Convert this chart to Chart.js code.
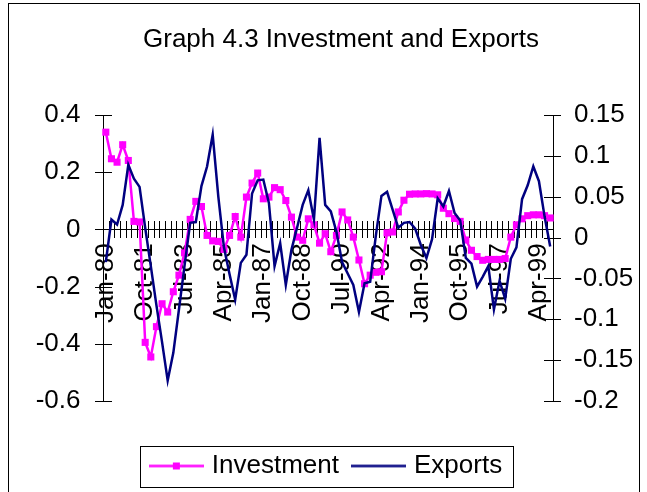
<!DOCTYPE html>
<html>
<head>
<meta charset="utf-8">
<title>Graph 4.3 Investment and Exports</title>
<script src="https://cdn.jsdelivr.net/npm/chart.js@4.4.1/dist/chart.umd.min.js"></script>
<style>
  html, body { margin: 0; padding: 0; background: #ffffff; }
  canvas { display: block; }
</style>
</head>
<body>
<canvas id="chart" width="647" height="492"></canvas>
<script>
// Quarterly periods, Jan-80 to Oct-99
const quarters = [
  'Jan-80','Apr-80','Jul-80','Oct-80','Jan-81','Apr-81','Jul-81','Oct-81',
  'Jan-82','Apr-82','Jul-82','Oct-82','Jan-83','Apr-83','Jul-83','Oct-83',
  'Jan-84','Apr-84','Jul-84','Oct-84','Jan-85','Apr-85','Jul-85','Oct-85',
  'Jan-86','Apr-86','Jul-86','Oct-86','Jan-87','Apr-87','Jul-87','Oct-87',
  'Jan-88','Apr-88','Jul-88','Oct-88','Jan-89','Apr-89','Jul-89','Oct-89',
  'Jan-90','Apr-90','Jul-90','Oct-90','Jan-91','Apr-91','Jul-91','Oct-91',
  'Jan-92','Apr-92','Jul-92','Oct-92','Jan-93','Apr-93','Jul-93','Oct-93',
  'Jan-94','Apr-94','Jul-94','Oct-94','Jan-95','Apr-95','Jul-95','Oct-95',
  'Jan-96','Apr-96','Jul-96','Oct-96','Jan-97','Apr-97','Jul-97','Oct-97',
  'Jan-98','Apr-98','Jul-98','Oct-98','Jan-99','Apr-99','Jul-99','Oct-99'
];

// Investment (left axis)
const investment = [
   0.340,  0.247,  0.235,  0.296,  0.241,  0.028,  0.026, -0.395, -0.446, -0.340,
  -0.260, -0.289, -0.218, -0.160, -0.082,  0.035,  0.098,  0.080, -0.021, -0.040,
  -0.042, -0.070, -0.021,  0.045, -0.027,  0.113,  0.162,  0.197,  0.107,  0.113,
   0.146,  0.139,  0.101,  0.043, -0.027, -0.038,  0.037,  0.016, -0.048, -0.015,
  -0.078, -0.021,  0.061,  0.033, -0.027, -0.107, -0.190, -0.160, -0.150, -0.148,
  -0.012, -0.009,  0.061,  0.102,  0.123,  0.124,  0.124,  0.125,  0.124,  0.121,
   0.074,  0.055,  0.038,  0.028, -0.037, -0.073, -0.095, -0.108, -0.105, -0.105,
  -0.105, -0.102, -0.027,  0.016,  0.037,  0.048,  0.051,  0.051,  0.048,  0.040
];

// Exports (right axis)
const exportsSeries = [
  -0.030,  0.022,  0.016,  0.040,  0.089,  0.072,  0.062,  0.012, -0.035, -0.083,
  -0.128, -0.175, -0.141, -0.088, -0.034,  0.018,  0.019,  0.063,  0.087,  0.126,
   0.050, -0.012, -0.045, -0.076, -0.031, -0.021,  0.054,  0.070,  0.071,  0.042,
  -0.035, -0.007, -0.058, -0.015,  0.012,  0.040,  0.058,  0.022,  0.122,  0.040,
   0.032,  0.007, -0.030, -0.044, -0.058, -0.091, -0.056, -0.054,  0.002,  0.051,
   0.056,  0.034,  0.012,  0.018,  0.019,  0.011, -0.009, -0.025, -0.002,  0.048,
   0.038,  0.057,  0.030,  0.021, -0.025, -0.032, -0.060, -0.048, -0.035, -0.088,
  -0.053, -0.075, -0.026, -0.012,  0.047,  0.064,  0.087,  0.069,  0.026, -0.011
];

const leftTicks = [-0.6, -0.4, -0.2, 0, 0.2, 0.4];
const rightTicks = [-0.2, -0.15, -0.1, -0.05, 0, 0.05, 0.1, 0.15];
const labelEvery = 7;

const FONT = "'Liberation Sans', Arial, Helvetica, sans-serif";
const FONT_SIZE = 26;
const PINK = '#FF00FF';
const NAVY = '#000080';

function fmt(v) {
  return String(parseFloat(Number(v).toFixed(2)));
}

// Small line samples used as legend symbols
function legendSwatch(color, withMarker) {
  const c = document.createElement('canvas');
  c.width = 55;
  c.height = 11;
  const g = c.getContext('2d');
  g.strokeStyle = color;
  g.lineWidth = 2.5;
  g.beginPath();
  g.moveTo(0, 5.5);
  g.lineTo(55, 5.5);
  g.stroke();
  if (withMarker) {
    g.fillStyle = color;
    g.fillRect(24, 2, 7, 7);
  }
  return c;
}
const investmentSwatch = legendSwatch(PINK, true);
const exportsSwatch = legendSwatch(NAVY, false);

// Frame, cross tick marks and the legend box
const decor = {
  id: 'decor',
  beforeDraw(chart) {
    const ctx = chart.ctx;
    ctx.save();
    ctx.fillStyle = '#ffffff';
    ctx.fillRect(0, 0, chart.width, chart.height);
    ctx.restore();
  },
  beforeDatasetsDraw(chart) {
    const {ctx, chartArea, scales} = chart;
    const x = scales.x, y = scales.y, y1 = scales.y1;
    const half = 8.5;
    ctx.save();
    ctx.strokeStyle = '#000000';
    ctx.lineWidth = 1;
    ctx.beginPath();
    const lx = Math.round(chartArea.left) + 0.5;
    leftTicks.forEach(v => {
      const py = Math.round(y.getPixelForValue(v)) + 0.5;
      ctx.moveTo(lx - half, py);
      ctx.lineTo(lx + half, py);
    });
    const rx = Math.round(chartArea.right) - 0.5;
    rightTicks.forEach(v => {
      const py = Math.round(y1.getPixelForValue(v)) + 0.5;
      ctx.moveTo(rx - half, py);
      ctx.lineTo(rx + half, py);
    });
    const zy = Math.round(y.getPixelForValue(0)) + 0.5;
    for (let k = 0; k <= quarters.length; k++) {
      const px = Math.round(x.getPixelForValue(k - 0.5)) + 0.5;
      ctx.moveTo(px, zy - half);
      ctx.lineTo(px, zy + half);
    }
    ctx.stroke();
    ctx.restore();
  },
  afterDraw(chart) {
    const ctx = chart.ctx;
    ctx.save();
    ctx.strokeStyle = '#000000';
    ctx.lineWidth = 1;
    ctx.strokeRect(8.5, 3.5, 631, 520);
    const boxes = chart.legend && chart.legend.legendHitBoxes;
    if (boxes && boxes.length) {
      const first = boxes[0], last = boxes[boxes.length - 1];
      const left = Math.round(first.left - 14) + 0.5;
      const right = Math.round(last.left + last.width + 11) + 0.5;
      const top = Math.round(first.top - 7) + 0.5;
      const bottom = Math.round(first.top + first.height + 8) + 0.5;
      ctx.strokeRect(left, top, right - left, bottom - top);
    }
    ctx.restore();
  }
};

Chart.defaults.font.family = FONT;
Chart.defaults.font.size = FONT_SIZE;
Chart.defaults.color = '#000000';

new Chart(document.getElementById('chart'), {
  type: 'line',
  data: {
    labels: quarters,
    datasets: [
      {
        label: 'Investment',
        data: investment,
        yAxisID: 'y',
        borderColor: PINK,
        backgroundColor: PINK,
        borderWidth: 2.5,
        pointStyle: 'rect',
        pointRadius: 5,
        pointBorderWidth: 0,
        pointBackgroundColor: PINK,
        pointBorderColor: PINK,
        tension: 0,
        fill: false,
        order: 1
      },
      {
        label: 'Exports',
        data: exportsSeries,
        yAxisID: 'y1',
        borderColor: NAVY,
        backgroundColor: NAVY,
        borderWidth: 2.5,
        pointRadius: 0,
        tension: 0,
        fill: false,
        order: 0
      }
    ]
  },
  options: {
    responsive: false,
    animation: false,
    devicePixelRatio: 1,
    events: [],
    layout: { padding: { left: 35, right: 0, top: 0, bottom: 3 } },
    plugins: {
      title: {
        display: true,
        text: 'Graph 4.3 Investment and Exports',
        color: '#000000',
        font: { family: FONT, size: FONT_SIZE, weight: 'normal' },
        padding: { top: 24.4, bottom: 59.4 }
      },
      legend: {
        position: 'bottom',
        fullSize: false,
        title: { display: true, text: '', font: { size: 1 }, padding: { top: 33.8, bottom: 0 } },
        labels: {
          usePointStyle: true,
          pointStyleWidth: 45,
          padding: 17,
          color: '#000000',
          font: { family: FONT, size: FONT_SIZE },
          generateLabels: () => [
            { text: 'Investment', pointStyle: investmentSwatch, datasetIndex: 0, hidden: false, lineWidth: 0, fillStyle: PINK, strokeStyle: PINK },
            { text: 'Exports', pointStyle: exportsSwatch, datasetIndex: 1, hidden: false, lineWidth: 0, fillStyle: NAVY, strokeStyle: NAVY }
          ]
        }
      },
      tooltip: { enabled: false }
    },
    scales: {
      x: {
        type: 'category',
        offset: true,
        position: { y: 0 },
        grid: { display: true, drawOnChartArea: false, drawTicks: false, offset: true },
        border: { display: true, color: '#000000', width: 1 },
        ticks: {
          autoSkip: false,
          minRotation: 90,
          maxRotation: 90,
          padding: 14,
          color: '#000000',
          font: { family: FONT, size: FONT_SIZE },
          callback(value, index) {
            return index % labelEvery === 0 ? quarters[index] : '';
          }
        },
        afterFit(scale) { scale.height = 0; }
      },
      y: {
        type: 'linear',
        position: 'left',
        min: -0.6,
        max: 0.4,
        afterBuildTicks(scale) { scale.ticks = leftTicks.map(v => ({ value: v })); },
        grid: { display: true, drawOnChartArea: false, drawTicks: false },
        border: { display: true, color: '#000000', width: 1 },
        ticks: { padding: 22.5, color: '#000000', font: { family: FONT, size: FONT_SIZE }, callback: v => fmt(v) },
        afterFit(scale) { scale.width = 68; }
      },
      y1: {
        type: 'linear',
        position: 'right',
        min: -0.2,
        max: 0.15,
        afterBuildTicks(scale) { scale.ticks = rightTicks.map(v => ({ value: v })); },
        grid: { display: true, drawOnChartArea: false, drawTicks: false },
        border: { display: true, color: '#000000', width: 1 },
        ticks: { padding: 21, color: '#000000', font: { family: FONT, size: FONT_SIZE }, callback: v => fmt(v) },
        afterFit(scale) { scale.width = 94; }
      }
    }
  },
  plugins: [decor]
});
</script>
</body>
</html>
